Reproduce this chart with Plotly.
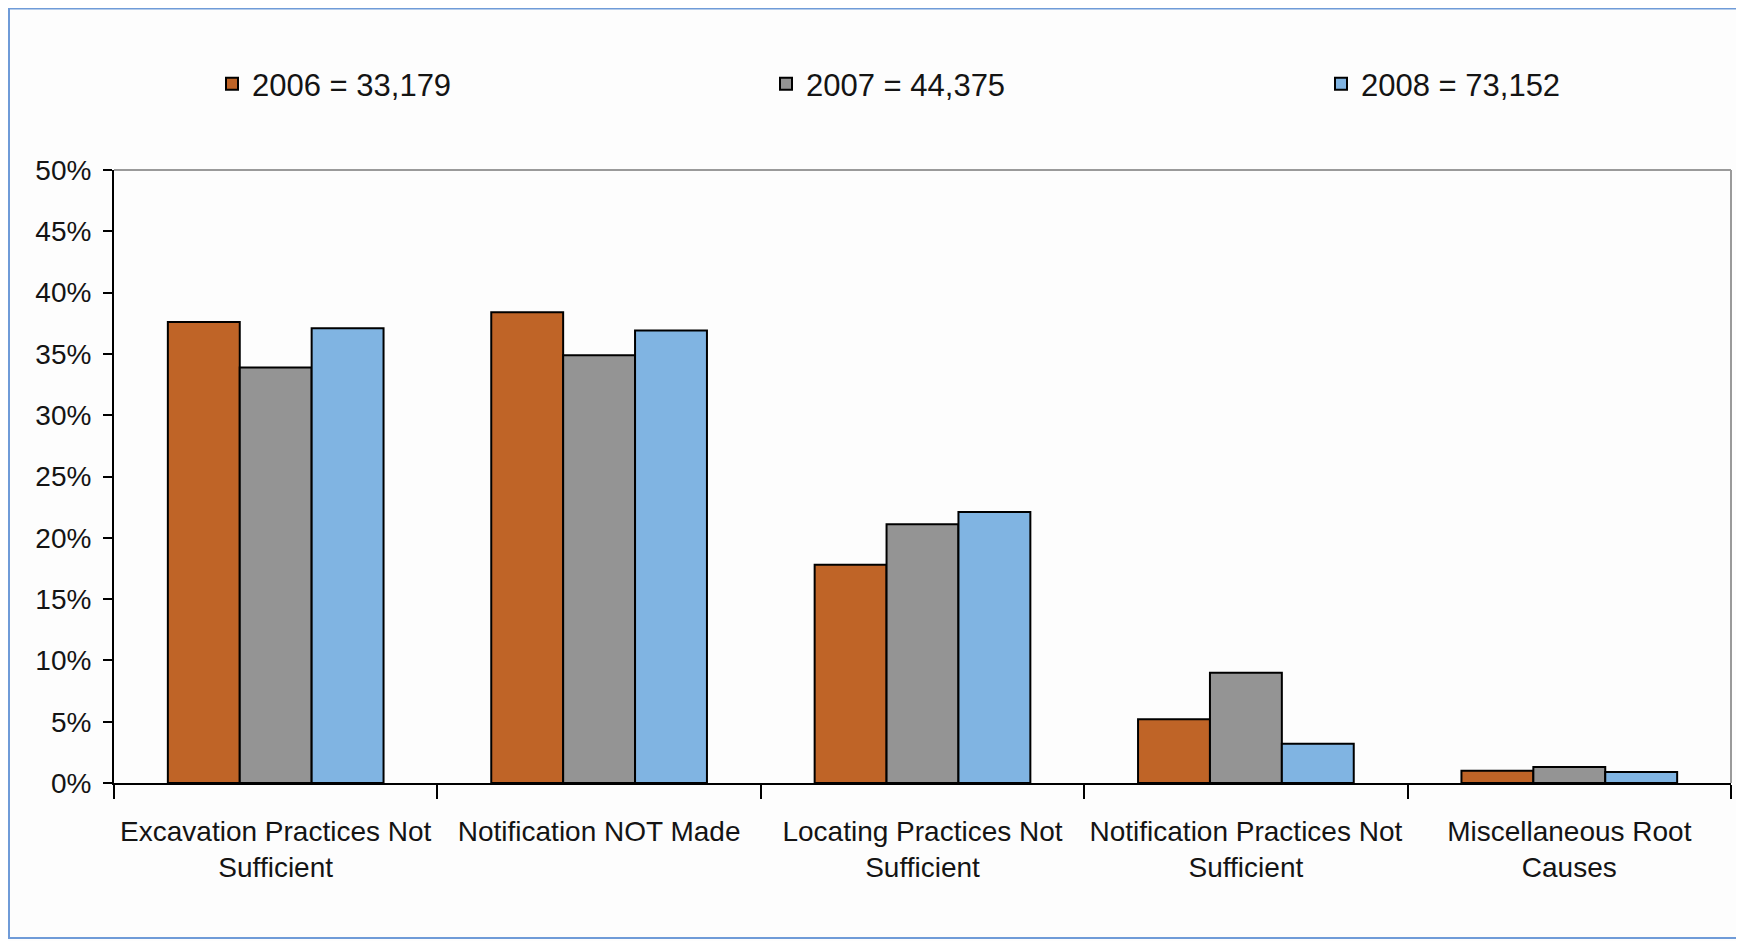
import plotly.graph_objects as go

categories = ["Excavation Practices Not Sufficient", "Notification NOT Made",
              "Locating Practices Not Sufficient", "Notification Practices Not Sufficient",
              "Miscellaneous Root Causes"]
tick_labels = ["Excavation Practices Not<br>Sufficient", "Notification NOT Made",
               "Locating Practices Not<br>Sufficient", "Notification Practices Not<br>Sufficient",
               "Miscellaneous Root<br>Causes"]
series_names = ["2006 = 33,179", "2007 = 44,375", "2008 = 73,152"]
values_2006 = [0.376, 0.384, 0.178, 0.052, 0.010]
values_2007 = [0.339, 0.349, 0.211, 0.090, 0.013]
values_2008 = [0.371, 0.369, 0.221, 0.032, 0.009]
y_ticks = [0, 0.05, 0.10, 0.15, 0.20, 0.25, 0.30, 0.35, 0.40, 0.45, 0.50]

colors = ["#BF6427", "#949494", "#80B4E2"]
SANS = "Liberation Sans, Arial, sans-serif"

W, H = 1744, 941
L, R, T, B = 106, 21, 162, 166
pw, ph = W - L - R, H - T - B


def px_x(p):
    return (p - L) / pw


def px_y(p):
    return (H - B - p) / ph


legend_ids = ["legend", "legend2", "legend3"]
legend_px = [204, 758, 1313]

fig = go.Figure()
for name, vals, col, lid in zip(series_names, [values_2006, values_2007, values_2008], colors, legend_ids):
    fig.add_trace(go.Bar(x=categories, y=vals, name=name, legend=lid,
                         marker=dict(color=col, line=dict(color="#000000", width=2))))

legend_layout = {}
for lid, lx in zip(legend_ids, legend_px):
    legend_layout[lid] = dict(orientation="h", x=px_x(lx), y=px_y(76), xanchor="left",
                              yanchor="middle", font=dict(family=SANS, size=31, color="#141414"),
                              bgcolor="rgba(0,0,0,0)", itemclick=False, itemdoubleclick=False)

fig.update_layout(
    width=W, height=H,
    margin=dict(l=L, r=R, t=T, b=B, pad=0),
    paper_bgcolor="#FDFDFD", plot_bgcolor="#FDFDFD",
    barmode="group", bargap=0.333, bargroupgap=0,
    font=dict(family=SANS, color="#141414"),
    showlegend=True,
    xaxis=dict(tickmode="array", tickvals=categories, ticktext=tick_labels,
               tickson="boundaries", ticks="outside", ticklen=14, tickwidth=2,
               tickcolor="#000000", showline=True, linecolor="#000000", linewidth=2,
               showgrid=False, tickangle=0, ticklabelstandoff=22,
               tickfont=dict(family=SANS, size=28, color="#141414")),
    yaxis=dict(range=[0, 0.5], tickvals=y_ticks, tickformat=".0%",
               ticks="outside", ticklen=9, tickwidth=2, tickcolor="#000000",
               showline=True, linecolor="#000000", linewidth=2, showgrid=False,
               zeroline=False, ticklabelstandoff=6,
               tickfont=dict(family=SANS, size=28, color="#141414")),
    shapes=[
        dict(type="line", xref="paper", yref="paper", x0=0, x1=1, y0=1, y1=1,
             line=dict(color="#9a9a9a", width=2), layer="below"),
        dict(type="line", xref="paper", yref="paper", x0=1, x1=1, y0=0, y1=1,
             line=dict(color="#9a9a9a", width=2), layer="below"),
        dict(type="rect", xref="paper", yref="paper", x0=px_x(1), x1=px_x(1800),
             y0=px_y(930), y1=px_y(0.5), line=dict(color="#6F9BD8", width=2), layer="below"),
    ],
    **legend_layout,
)

fig.write_html("out.html")
